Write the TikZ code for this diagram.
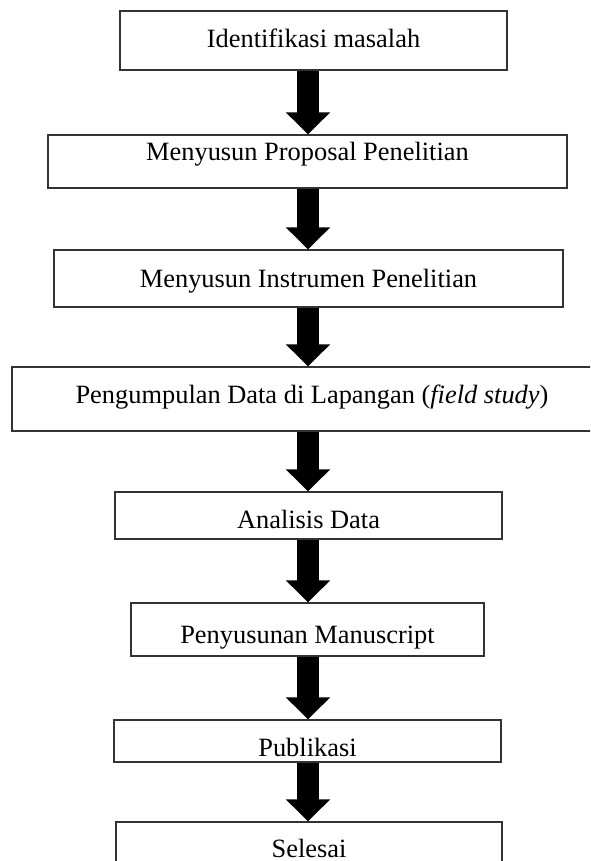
\documentclass[tikz,border=0pt]{standalone}
\usepackage{fontspec}
\setmainfont{Liberation Serif}
\usetikzlibrary{arrows.meta,positioning}

\tikzset{
  stepbox/.style={draw=black!80, line width=0.6pt, fill=white, inner sep=0pt},
  steplabel/.style={anchor=base, inner sep=0pt, font=\fontsize{13.2}{15}\selectfont},
  flowarrow/.style={line width=11pt, -{Triangle[width=21.5pt,length=11pt]}}
}

\begin{document}
\begin{tikzpicture}[x=0.5pt, y=-0.5pt]
    \useasboundingbox (0,0) rectangle (590,861);
    \clip (0,0) rectangle (590,861);

    % Boxes
    \node[stepbox, minimum width=193.5pt, minimum height=29.5pt] (b1) at (313.5,40.5) {};
    \node[stepbox, minimum width=259.5pt, minimum height=26.5pt] (b2) at (307.5,161.5) {};
    \node[stepbox, minimum width=254.5pt, minimum height=28.5pt] (b3) at (308.5,278.5) {};
    \node[stepbox, minimum width=300pt, minimum height=32pt] (b4) at (312,399) {};
    \node[stepbox, minimum width=193.5pt, minimum height=23.5pt] (b5) at (308.5,515.5) {};
    \node[stepbox, minimum width=176.5pt, minimum height=26.5pt] (b6) at (307.5,629.5) {};
    \node[stepbox, minimum width=193.5pt, minimum height=21pt] (b7) at (307.5,741) {};
    \node[stepbox, minimum width=193pt, minimum height=25pt] (b8) at (309,847) {};

    % Labels
    \node[steplabel] (t1) at (313.5,48) {Identifikasi masalah};
    \node[steplabel] (t2) at (307.5,161) {Menyusun Proposal Penelitian};
    \node[steplabel] (t3) at (308.5,287.5) {Menyusun Instrumen Penelitian};
    \node[steplabel] (t4) at (312,403.5) {Pengumpulan Data di Lapangan (\textit{field study})};
    \node[steplabel] (t5) at (308.5,528) {Analisis Data};
    \node[steplabel] (t6) at (307.5,643.5) {Penyusunan Manuscript};
    \node[steplabel] (t7) at (307.5,756) {Publikasi};
    \node[steplabel] (t8) at (309,857) {Selesai};

    % Arrows
    \coordinate (ax) at (308,0);
    \foreach \a/\b in {b1/b2,b2/b3,b3/b4,b4/b5,b5/b6,b6/b7,b7/b8}
        \draw[flowarrow] (\a.south -| ax) -- (\b.north -| ax);
\end{tikzpicture}
\end{document}
